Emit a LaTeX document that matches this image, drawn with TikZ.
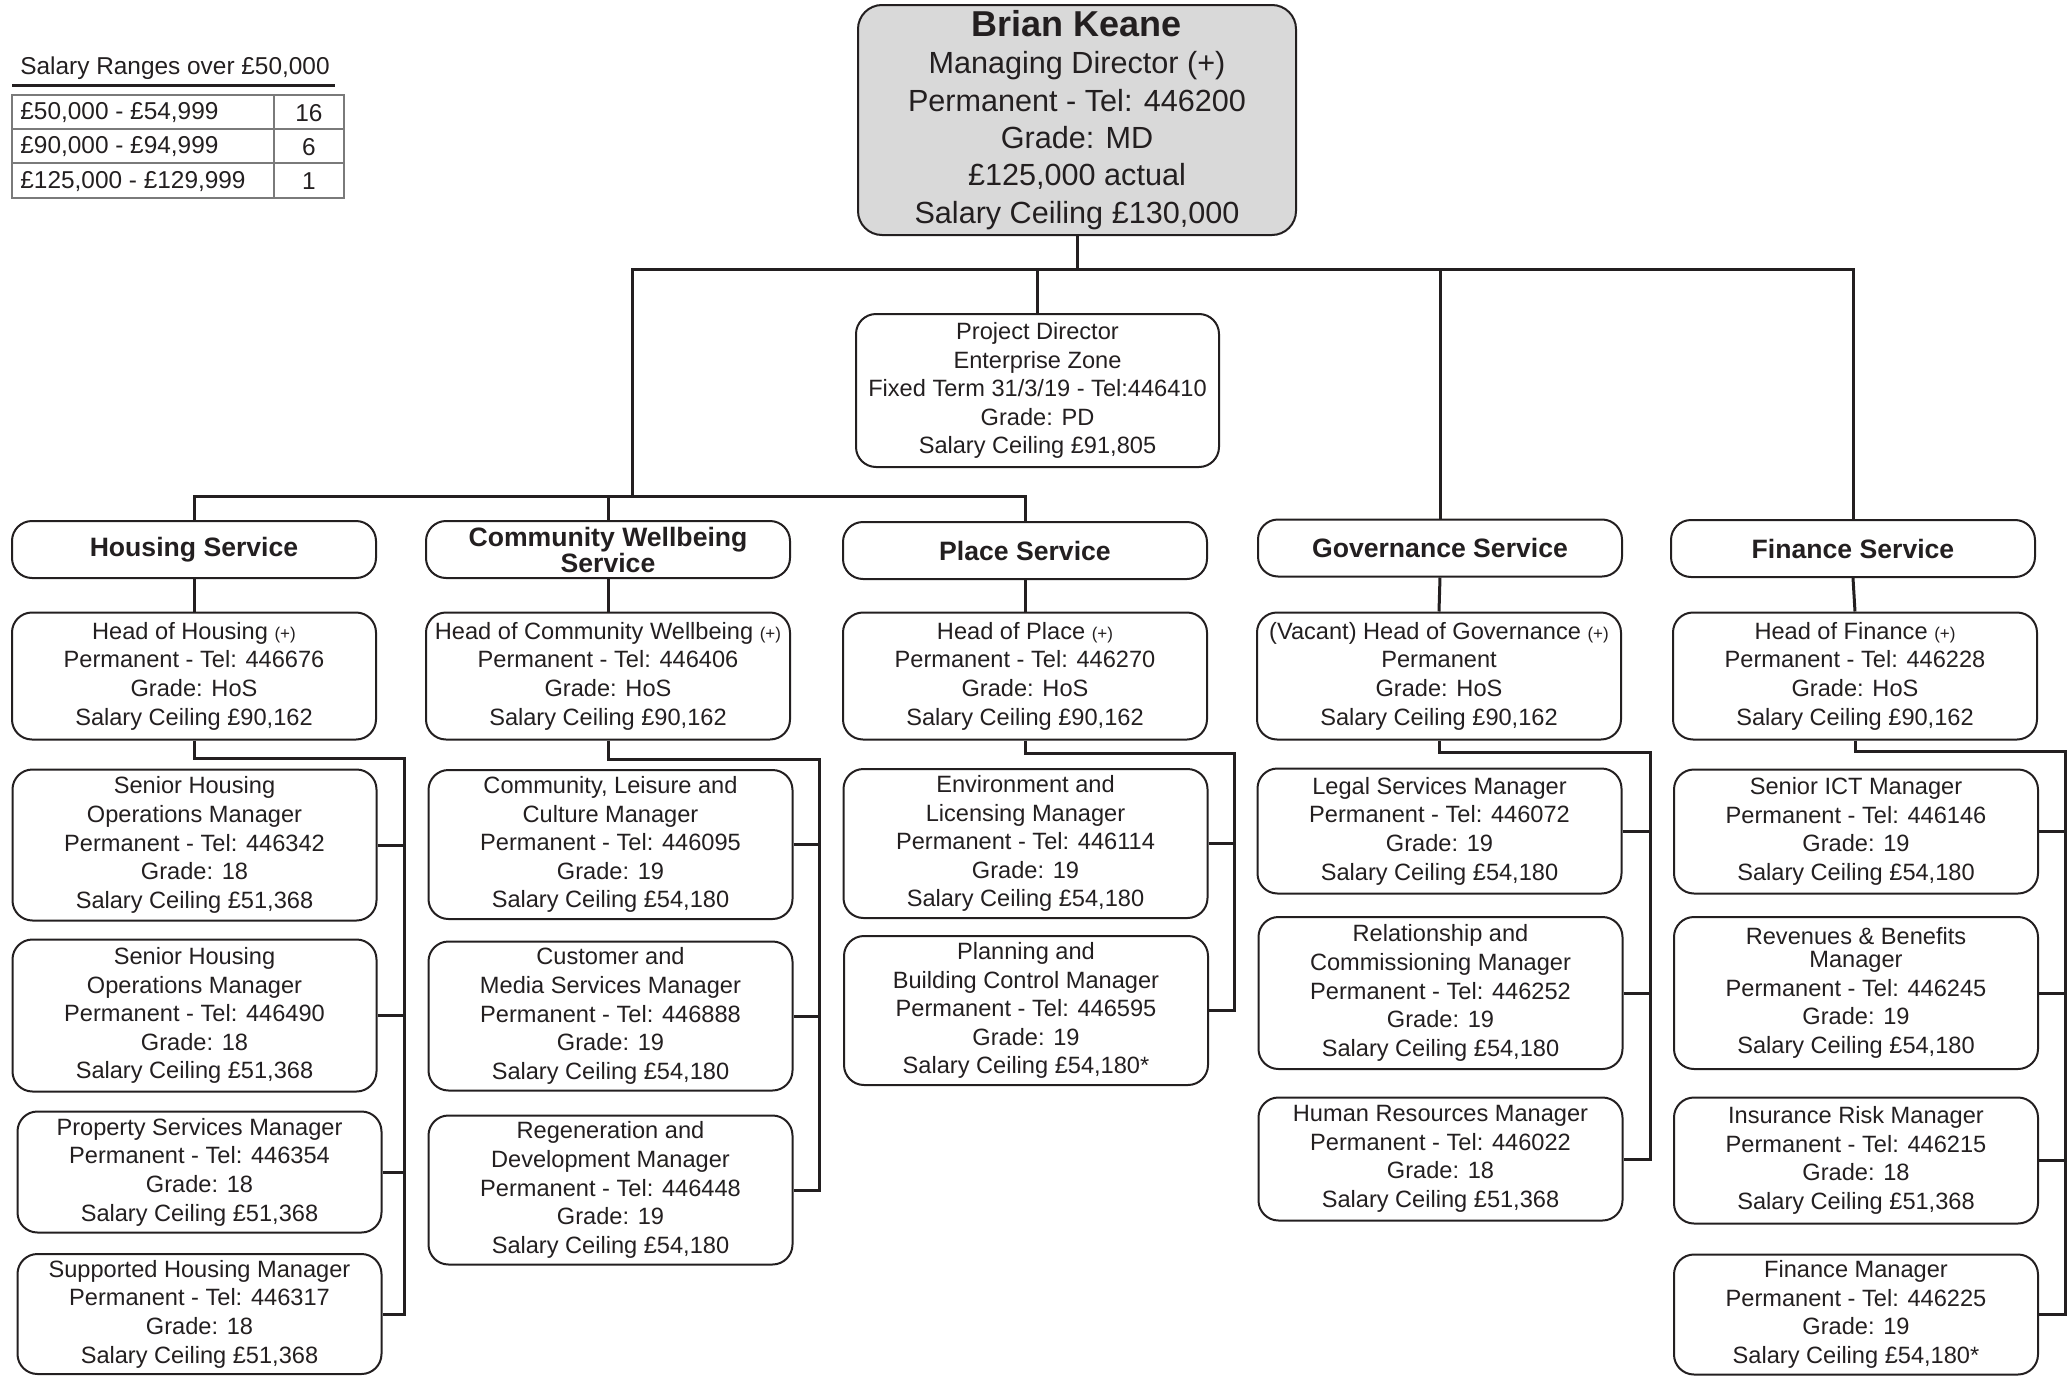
\documentclass[tikz,border=0pt]{standalone}
\usepackage{fontspec}
\setmainfont{Liberation Sans}
\usepackage{tikz}
\usetikzlibrary{positioning}
\definecolor{inkgrey}{HTML}{231F20}
\definecolor{mdfill}{HTML}{D9D9D9}
\definecolor{tablegrey}{HTML}{7A7A7A}

\tikzset{
  post/.style={draw=inkgrey, text=inkgrey, line width=1pt, rounded corners=10pt,
    align=center, inner sep=0pt, minimum width=182pt, font=\fontsize{11.8}{14.3}\selectfont},
  service/.style={post, minimum height=28.5pt, font=\bfseries\fontsize{13.3}{13}\selectfont},
  head/.style={post, minimum height=63.5pt},
  link/.style={draw=inkgrey, line width=1.5pt},
  cell/.style={text=inkgrey, font=\fontsize{12.2}{14}\selectfont, inner sep=0pt},
}
\newcommand{\smallplus}{{\fontsize{8.5}{10}\selectfont(+)}}

\begin{document}
\begin{tikzpicture}[x=0.5pt, y=-0.5pt]
    \useasboundingbox (0,0) rectangle (2069,1376);

    \node [cell, anchor=base west] (rangetitle) at (20,74) {Salary Ranges over £50,000};
    \draw [inkgrey, line width=1.5pt] (12,85) -- (335,85);
    \draw [tablegrey, line width=0.8pt] (12,95) rectangle (344,198);
    \draw [tablegrey, line width=0.8pt] (12,129) -- (344,129) (12,163) -- (344,163) (274,95) -- (274,198);
    \node [cell, anchor=west] (rangea) at (20,113) {£50,000 - £54,999};
    \node [cell, anchor=west] (rangeb) at (20,147) {£90,000 - £94,999};
    \node [cell, anchor=west] (rangec) at (20,181.5) {£125,000 - £129,999};
    \node [cell] (counta) at (309,113) {16};
    \node [cell] (countb) at (309,147) {6};
    \node [cell] (countc) at (309,181.5) {1};

    \node [post, fill=mdfill, minimum width=219pt, minimum height=115pt, rounded corners=12pt,
      font=\fontsize{15.3}{18.7}\selectfont] (md) at (1077,120)
      {{\bfseries\fontsize{18}{22}\selectfont Brian Keane}\\ Managing Director (+)\\ Permanent - Tel: 446200\\ Grade: MD\\ £125,000 actual\\ Salary Ceiling £130,000};
    \node [post, minimum width=181.5pt, minimum height=76.5pt] (pd) at (1037.5,390.5)
      {Project Director\\ Enterprise Zone\\ Fixed Term 31/3/19 - Tel:446410\\ Grade: PD\\ Salary Ceiling £91,805};

    \node [service] (hssvc) at (194,549.5) {Housing Service};
    \node [service] (cwsvc) at (608,549.5) {Community Wellbeing\\ Service};
    \node [service] (plsvc) at (1025,550.5) {Place Service};
    \node [service] (govsvc) at (1440,548) {Governance Service};
    \node [service] (finsvc) at (1853,548.5) {Finance Service};

    \node [head] (hshead) at (194,676) {Head of Housing \smallplus\\ Permanent - Tel: 446676\\ Grade: HoS\\ Salary Ceiling £90,162};
    \node [head] (cwhead) at (608,676) {Head of Community Wellbeing \smallplus\\ Permanent - Tel: 446406\\ Grade: HoS\\ Salary Ceiling £90,162};
    \node [head] (plhead) at (1025,676) {Head of Place \smallplus\\ Permanent - Tel: 446270\\ Grade: HoS\\ Salary Ceiling £90,162};
    \node [head] (govhead) at (1439,676) {(Vacant) Head of Governance \smallplus\\ Permanent\\ Grade: HoS\\ Salary Ceiling £90,162};
    \node [head] (finhead) at (1855,676) {Head of Finance \smallplus\\ Permanent - Tel: 446228\\ Grade: HoS\\ Salary Ceiling £90,162};

    \node [post, minimum height=75.5pt] (hsa) at (194.5,845) {Senior Housing\\ Operations Manager\\ Permanent - Tel: 446342\\ Grade: 18\\ Salary Ceiling £51,368};
    \node [post, minimum height=76pt] (hsb) at (194.5,1015.5) {Senior Housing\\ Operations Manager\\ Permanent - Tel: 446490\\ Grade: 18\\ Salary Ceiling £51,368};
    \node [post, minimum height=60.5pt] (hsc) at (199.5,1172) {Property Services Manager\\ Permanent - Tel: 446354\\ Grade: 18\\ Salary Ceiling £51,368};
    \node [post, minimum height=60pt] (hsd) at (199.5,1314) {Supported Housing Manager\\ Permanent - Tel: 446317\\ Grade: 18\\ Salary Ceiling £51,368};

    \node [post, minimum height=74.5pt] (cwa) at (610.5,844.5) {Community, Leisure and\\ Culture Manager\\ Permanent - Tel: 446095\\ Grade: 19\\ Salary Ceiling £54,180};
    \node [post, minimum height=74.5pt] (cwb) at (610.5,1016) {Customer and\\ Media Services Manager\\ Permanent - Tel: 446888\\ Grade: 19\\ Salary Ceiling £54,180};
    \node [post, minimum height=74.5pt] (cwc) at (610.5,1190) {Regeneration and\\ Development Manager\\ Permanent - Tel: 446448\\ Grade: 19\\ Salary Ceiling £54,180};

    \node [post, minimum height=74.5pt] (pla) at (1025.5,843.5) {Environment and\\ Licensing Manager\\ Permanent - Tel: 446114\\ Grade: 19\\ Salary Ceiling £54,180};
    \node [post, minimum height=74.5pt] (plb) at (1026,1010.5) {Planning and\\ Building Control Manager\\ Permanent - Tel: 446595\\ Grade: 19\\ Salary Ceiling £54,180*};

    \node [post, minimum height=62.5pt] (gova) at (1439.5,831) {Legal Services Manager\\ Permanent - Tel: 446072\\ Grade: 19\\ Salary Ceiling £54,180};
    \node [post, minimum height=76pt] (govb) at (1440.5,993) {Relationship and\\ Commissioning Manager\\ Permanent - Tel: 446252\\ Grade: 19\\ Salary Ceiling £54,180};
    \node [post, minimum height=61.5pt] (govc) at (1440.5,1159) {Human Resources Manager\\ Permanent - Tel: 446022\\ Grade: 18\\ Salary Ceiling £51,368};

    \node [post, minimum height=62pt] (fina) at (1856,831.5) {Senior ICT Manager\\ Permanent - Tel: 446146\\ Grade: 19\\ Salary Ceiling £54,180};
    \node [post, minimum height=76pt] (finb) at (1856,993) {Revenues \& Benefits\\[-3pt] Manager\\ Permanent - Tel: 446245\\ Grade: 19\\ Salary Ceiling £54,180};
    \node [post, minimum height=63pt] (finc) at (1856,1160.5) {Insurance Risk Manager\\ Permanent - Tel: 446215\\ Grade: 18\\ Salary Ceiling £51,368};
    \node [post, minimum height=60pt] (find) at (1856,1314.5) {Finance Manager\\ Permanent - Tel: 446225\\ Grade: 19\\ Salary Ceiling £54,180*};

    \coordinate (topbus) at (632,269);
    \coordinate (midbus) at (632,496);
    \draw [link] (md.south) -- (md.south |- topbus);
    \draw [link] (midbus) -- (topbus) -| (finsvc.north);
    \draw [link] (pd.north) -- (pd.north |- topbus);
    \draw [link] (govsvc.north) -- (govsvc.north |- topbus);
    \draw [link] (hssvc.north) |- (plsvc.north |- midbus) -- (plsvc.north);
    \draw [link] (cwsvc.north) -- (cwsvc.north |- midbus);

    \foreach \svc in {hs,cw,pl,gov,fin}
      \draw [link] (\svc svc.south) -- (\svc head.north);

    \coordinate (hsbus) at (404,758);
    \coordinate (cwbus) at (819,759);
    \coordinate (plbus) at (1234,753);
    \coordinate (govbus) at (1650,752);
    \coordinate (finbus) at (2065,751);
    \draw [link] (hshead.south) |- (hsbus) |- (hsd.east);
    \draw [link] (cwhead.south) |- (cwbus) |- (cwc.east);
    \draw [link] (plhead.south) |- (plbus) |- (plb.east);
    \draw [link] (govhead.south) |- (govbus) |- (govc.east);
    \draw [link] (finhead.south) |- (finbus) |- (find.east);
    \foreach \n/\b in {hsa/hsbus,hsb/hsbus,hsc/hsbus,cwa/cwbus,cwb/cwbus,pla/plbus,gova/govbus,govb/govbus,fina/finbus,finb/finbus,finc/finbus}
      \draw [link] (\n.east) -- (\n.east -| \b);
  \end{tikzpicture}
\end{document}
